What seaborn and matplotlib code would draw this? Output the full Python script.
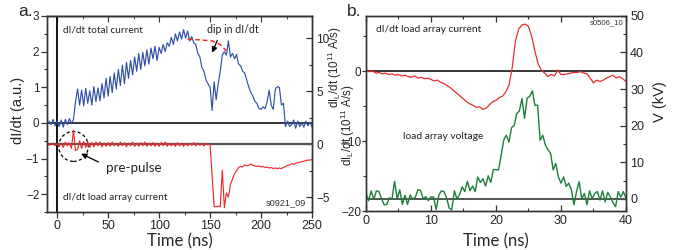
import numpy as np
import matplotlib
matplotlib.use('Agg')
import matplotlib.pyplot as plt
from matplotlib.ticker import MultipleLocator
from matplotlib.patches import Ellipse
import seaborn as sns

# ── Data: panel a (2 ns sampling) ────────────────────────────────────────────
A_DT = 2
# dI/dt total current (a.u.), t = -8 .. 250
total_current = [
    0.05, -0.05, 0.10, -0.08, 0.05, -0.10, 0.08, -0.12, 0.10, -0.05, 0.12, -0.02, 0.10, 0.60,
    0.95, 0.50, 0.92, 0.48, 0.97, 0.55, 0.90, 0.50, 1.02, 0.60, 0.98, 0.62, 1.10, 0.70,
    1.25, 0.75, 1.30, 0.85, 1.40, 0.95, 1.50, 1.05, 1.62, 1.10, 1.70, 1.25, 1.75, 1.35,
    1.85, 1.45, 1.95, 1.50, 1.98, 1.60, 2.05, 1.65, 2.10, 1.80, 2.15, 1.75, 2.12, 1.95,
    2.20, 2.00, 2.25, 2.15, 2.40, 2.20, 2.50, 2.30, 2.55, 2.35, 2.62, 2.38, 2.58, 2.30,
    2.42, 2.25, 2.20, 1.95, 1.85, 1.55, 1.45, 1.20, 1.10, 1.00, 0.35, 1.15, 0.65, 1.10,
    1.45, 1.90, 2.00, 1.90, 2.30, 1.85, 1.95, 1.80, 1.92, 1.65, 1.60, 1.45, 1.40, 1.20,
    1.00, 0.85, 0.75, 0.60, 0.55, 0.40, 0.38, 0.45, 0.40, 0.60, 0.92, 0.50, 0.38, 0.95,
    1.02, 1.00, 0.50, 0.55, -0.10, 0.05, -0.10, -0.05, 0.08, -0.15, 0.05, -0.10, 0.00,
    -0.12, 0.05, -0.08, 0.02, -0.12,
]
# dI_L/dt load array current (10^11 A/s, right axis), t = -10 .. 250
load_current_a = [
    0.05, -0.10, 0.00, 0.10, -0.15, 0.05, -0.20, 0.10, -0.30, 0.20, -0.15, 0.10, -0.40,
    1.30, -0.60,
    -0.50, 0.30, -0.40, 0.25, -0.30, 0.20, -0.30, 0.15, -0.25, 0.20, -0.15,
    0.20, -0.25, 0.10, -0.20, 0.15, -0.20, 0.20, -0.15, 0.10, -0.20, 0.20,
    -0.15, 0.15, -0.25, 0.10, -0.15, 0.20, -0.20, 0.10, -0.20, 0.15, -0.15,
    0.20, -0.20, 0.10, -0.15, 0.15, -0.20, 0.10, -0.20, 0.15, -0.15, 0.20,
    -0.20, 0.10, -0.15, 0.10, -0.20, 0.15, -0.15, 0.10, -0.20, 0.10, -0.15,
    0.05, -0.10, 0.15, -0.15, 0.10, -0.10, 0.05, -0.15, 0.10, -0.05, 0.00,
    -3.00, -5.90, -5.90, -5.85, -5.90, -2.45, -6.00, -4.60, -5.00, -3.80, -3.30,
    -2.80, -2.50, -2.20, -2.10, -2.15, -1.95, -2.05, -2.00, -1.85, -2.00,
    -2.05, -2.10, -2.05, -2.15, -2.10, -2.20, -2.15, -2.25, -2.20, -2.30, -2.25,
    -2.30, -2.25, -2.30, -2.20, -2.10, -2.00, -1.95, -1.85, -1.90, -1.80, -1.75,
    -1.70, -1.65, -1.60, -1.55, -1.50, -1.50, -1.45,
]
dip_t = [128, 140, 152, 160, 166]
dip_y = [2.35, 2.33, 2.30, 2.20, 2.02]

# ── Data: panel b ────────────────────────────────────────────────────────────
B_DT_I, B_DT_V = 0.5, 0.4
load_current_b = [
    0.0, -0.1, 0.1, -0.3, -0.2, -0.4, -0.3, -0.5, -0.4, -0.6, -0.5, -0.7, -0.6, -0.8, -0.9, -0.7,
    -1.0, -0.9, -1.1, -1.0, -1.2, -1.4, -1.3, -1.6, -1.8, -2.1, -2.4, -2.8, -3.2, -3.6, -4.0, -4.4,
    -4.7, -4.9, -5.2, -5.1, -5.5, -5.3, -4.8, -4.4, -4.2, -3.8, -3.6, -3.0, -2.0, 0.5, 4.3, 6.0,
    6.6, 6.7, 6.4, 4.9, 2.8, 1.0, 0.1, -0.3, -0.8, -0.5, -0.7, 0.15, -0.5, -0.5, -0.4, -0.3,
    -0.2, -0.2, -0.1, -0.3, -0.4, -1.0, -1.7, -1.3, -1.5, -1.3, -1.0, -0.8, -0.6, -1.0, -0.8, -1.1,
    -1.5,
]
voltage_kv = [
    1.5, -0.5, 2.2, -0.1, 2.2, 2.0, 0.0, -1.6, -1.5, 0.3, 0.0, 4.8, 0.0, 2.5, -1.5, 1.0,
    -1.5, 1.1, -0.1, 0.5, 2.5, 2.3, 0.0, 0.6, -0.5, 0.6, 0.5, -2.9, 1.0, 2.2, 2.0, 0.3,
    -2.5, -3.0, 2.2, 0.0, 1.2, 3.3, 2.0, 4.8, 2.2, 3.5, 2.0, 6.0, 4.5, 5.5, 3.5, 6.3,
    4.5, 8.0, 8.0, 7.9, 12.0, 16.1, 17.4, 15.5, 19.5, 20.0, 23.3, 24.0, 27.4, 22.0, 27.5, 28.0,
    29.5, 25.5, 25.6, 16.0, 17.4, 14.7, 13.4, 12.5, 7.9, 9.7, 6.0, 4.3, 6.0, 3.4, 4.3, 2.5,
    -1.6, 2.0, 4.7, 0.0, 1.5, -1.6, 2.2, 0.0, 1.5, 2.0, -0.3, 2.2, -0.8, 1.8, 0.5, -1.0,
    -2.1, 2.0, 0.5, 2.0, 0.2,
]

BLUE, RED, GREEN, DARK = "#3050a6", "#ee2a2a", "#1b7f3a", "#333333"

sns.set_style("ticks")
plt.rcParams['font.family'] = ['Liberation Sans', 'DejaVu Sans']
plt.rcParams['mathtext.fontset'] = 'custom'
plt.rcParams['mathtext.rm'] = 'Liberation Sans'
plt.rcParams['axes.edgecolor'] = DARK
plt.rcParams['axes.linewidth'] = 1.0
NOTE = dict(family=['Lato', 'DejaVu Sans'], color='#222222')
IL_LABEL = r"dI$_\mathregular{L}$/dt (10$^\mathregular{11}$ A/s)"

fig = plt.figure(figsize=(6.73, 2.5), dpi=100)


def style_ticks(ax, ax2, x_dir_bottom, right_labelsize=8.5):
    for a in (ax, ax2):
        a.tick_params(which='major', length=4, width=0.9, color=DARK)
        a.tick_params(which='minor', length=2.2, width=0.8, color=DARK)
    ax.tick_params(axis='y', which='both', direction='out', labelsize=8.5, pad=1.5)
    ax.tick_params(axis='x', which='both', direction=x_dir_bottom, labelsize=9, pad=2)
    ax2.tick_params(axis='y', which='both', direction='in', labelsize=right_labelsize, pad=3)


# ═════════════════════════════  PANEL a  ═════════════════════════════════════
ax = fig.add_axes([0.0698, 0.152, 0.3938, 0.784])
ax2 = ax.twinx()
ta = -8 + A_DT * np.arange(len(total_current))
ta_red = -10 + A_DT * np.arange(len(load_current_a))

ax.axhline(0, color='black', lw=1.1, zorder=1)
ax.axvline(0, color='black', lw=1.3, zorder=1)
ax2.axhline(0, color='#555555', lw=1.6, zorder=1)
sns.lineplot(x=ta, y=total_current, ax=ax, color=BLUE, lw=0.85)
sns.lineplot(x=ta_red, y=load_current_a, ax=ax2, color=RED, lw=0.85)
sns.lineplot(x=dip_t, y=dip_y, ax=ax, color=RED, lw=1.1, linestyle=(0, (3, 2)))

ax.set_xlim(-10, 250)
ax.set_ylim(-2.5, 3)
ax2.set_ylim(-6.4, 12.1)
ax.xaxis.set_major_locator(MultipleLocator(50))
ax.xaxis.set_minor_locator(MultipleLocator(25))
ax.yaxis.set_major_locator(MultipleLocator(1))
ax.yaxis.set_minor_locator(MultipleLocator(0.5))
ax2.yaxis.set_major_locator(MultipleLocator(5))
ax2.yaxis.set_minor_locator(MultipleLocator(2.5))
style_ticks(ax, ax2, 'out')
ax.tick_params(axis='x', top=False)
top = ax.secondary_xaxis('top')
top.xaxis.set_major_locator(MultipleLocator(50))
top.xaxis.set_minor_locator(MultipleLocator(25))
top.tick_params(which='both', direction='in', labeltop=False, color=DARK)
top.tick_params(which='major', length=4)
top.tick_params(which='minor', length=2.2)

ax.set_xlabel("Time (ns)", fontsize=12, family=['Lato', 'DejaVu Sans'])
ax.xaxis.set_label_coords(0.5, -0.108)
ax.set_ylabel("dI/dt (a.u.)", fontsize=10.5)
ax.yaxis.set_label_coords(-0.083, 0.52)
ax2.set_ylabel(IL_LABEL, fontsize=8.3)
ax2.yaxis.set_label_coords(1.052, 0.74)

ax.text(6, 2.62, "dI/dt total current", fontsize=7.2, va='center', **NOTE)
ax.text(147, 2.62, "dip in dI/dt", fontsize=7.6, va='center', **NOTE)
ax.annotate("", xy=(151, 1.9), xytext=(158, 2.38),
            arrowprops=dict(arrowstyle='-|>', color='black', lw=0.9, mutation_scale=8))
ax.text(6, -2.1, "dI/dt load array current", fontsize=7.3, va='center', **NOTE)
ax.text(244, -2.25, "s0921_09", fontsize=6.6, ha='right', va='center', color='#333333')
ax.text(48, -1.27, "pre-pulse", fontsize=9.6, va='center', **NOTE)
ax.annotate("", xy=(21, -0.83), xytext=(43, -1.13),
            arrowprops=dict(arrowstyle='-|>', color='black', lw=0.9, mutation_scale=8))
ax.add_patch(Ellipse((16, -0.66), width=29, height=0.84, fill=False,
                     edgecolor='black', lw=0.9, linestyle=(0, (2.5, 2))))

fig.text(0.027, 0.952, "a.", fontsize=12.5, va='center', ha='left')

# ═════════════════════════════  PANEL b  ═════════════════════════════════════
bx = fig.add_axes([0.5438, 0.156, 0.3863, 0.781])
bx2 = bx.twinx()
tb_i = B_DT_I * np.arange(len(load_current_b))
tb_v = B_DT_V * np.arange(len(voltage_kv))

bx.axhline(0, color='black', lw=1.1, zorder=1)
bx2.axhline(0, color='#555555', lw=1.4, zorder=1)
sns.lineplot(x=tb_i, y=load_current_b, ax=bx, color=RED, lw=0.9)
sns.lineplot(x=tb_v, y=voltage_kv, ax=bx2, color=GREEN, lw=1.0)

bx.set_xlim(0, 40)
bx.set_ylim(-20, 7.9)
bx2.set_ylim(-3.3, 50)
bx.xaxis.set_major_locator(MultipleLocator(10))
bx.xaxis.set_minor_locator(MultipleLocator(5))
bx.yaxis.set_major_locator(MultipleLocator(10))
bx.yaxis.set_minor_locator(MultipleLocator(5))
bx2.yaxis.set_major_locator(MultipleLocator(10))
bx2.yaxis.set_minor_locator(MultipleLocator(5))
style_ticks(bx, bx2, 'in', right_labelsize=9)
bx.tick_params(axis='x', which='both', top=True, pad=3)
bx.tick_params(axis='y', which='major', length=3, pad=0.5)

bx.set_xlabel("Time (ns)", fontsize=12, family=['Lato', 'DejaVu Sans'])
bx.xaxis.set_label_coords(0.5, -0.112)
bx.set_ylabel(IL_LABEL, fontsize=8.3)
bx.yaxis.set_label_coords(-0.033, 0.44)
bx2.set_ylabel("V (kV)", fontsize=10.5)
bx2.yaxis.set_label_coords(1.104, 0.56)

bx.text(1.6, 6.0, "dI/dt load array current", fontsize=7.4, va='center', **NOTE)
bx.text(5.7, -9.4, "load array voltage", fontsize=7.4, va='center', **NOTE)
bx.text(39.7, 6.9, "s0506_10", fontsize=5.6, ha='right', va='center', color='#333333')

fig.text(0.5156, 0.952, "b.", fontsize=12.5, va='center', ha='left')

plt.savefig("out.png", dpi=100)
plt.close()
